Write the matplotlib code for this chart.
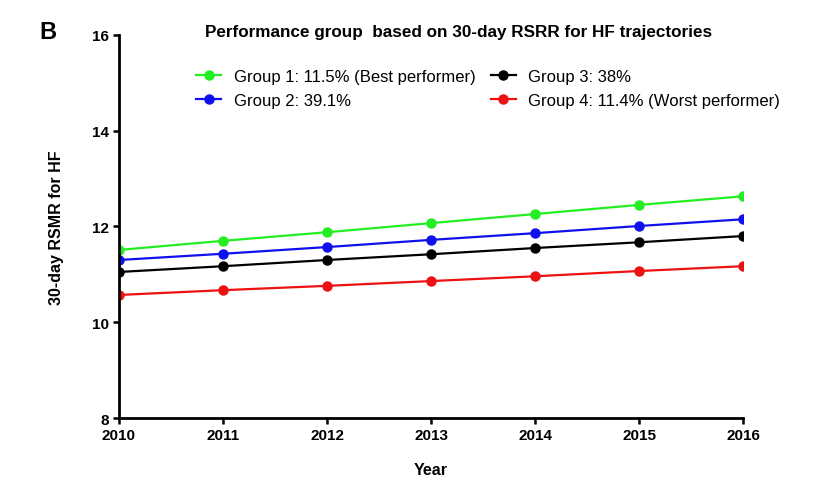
import numpy as np
import matplotlib.pyplot as plt

plt.rcParams['font.family'] = ['Liberation Sans', 'DejaVu Sans']

years = [2010, 2011, 2012, 2013, 2014, 2015, 2016]
group1 = [11.51, 11.70, 11.88, 12.07, 12.26, 12.45, 12.63]
group2 = [11.30, 11.43, 11.57, 11.72, 11.86, 12.01, 12.15]
group3 = [11.05, 11.17, 11.30, 11.42, 11.55, 11.67, 11.80]
group4 = [10.57, 10.67, 10.76, 10.86, 10.96, 11.07, 11.17]
labels = ["Group 1: 11.5% (Best performer)", "Group 2: 39.1%",
          "Group 3: 38%", "Group 4: 11.4% (Worst performer)"]
colors = ["#22ee22", "#1010ee", "#000000", "#ee1111"]

fig = plt.figure(figsize=(8.35, 4.85), dpi=100)
ax = fig.add_axes([0.1425, 0.136, 0.7475, 0.79])

for vals, lab, c in zip([group1, group2, group3, group4], labels, colors):
    ax.plot(years, vals, color=c, lw=1.6, marker="o", ms=6.5, label=lab)

ax.set_xlim(2010, 2016)
ax.set_ylim(8, 16)
ax.set_xticks(years)
ax.set_yticks([8, 10, 12, 14, 16])
ax.spines["top"].set_visible(False)
ax.spines["right"].set_visible(False)
ax.spines["left"].set_linewidth(2)
ax.spines["bottom"].set_linewidth(2)
ax.tick_params(width=1.8, length=4.5, labelsize=11, pad=3)
for t in ax.get_xticklabels() + ax.get_yticklabels():
    t.set_fontweight("bold")

ax.set_xlabel("Year", fontsize=11.5, fontweight="bold", labelpad=14)
ax.set_ylabel("30-day RSMR for HF", fontsize=11.5, fontweight="bold", labelpad=20)

fig.text(0.245, 0.918, "Performance group  based on 30-day RSRR for HF trajectories",
         fontsize=12.3, fontweight="bold", va="bottom")
fig.text(0.047, 0.91, "B", fontsize=17, fontweight="bold", va="bottom")

leg = ax.legend(ncol=2, frameon=False, fontsize=12, loc="upper left",
                bbox_to_anchor=(0.1, 0.95), handlelength=1.5, handletextpad=0.75,
                columnspacing=0.9, labelspacing=0.55)

fig.savefig("out.png", dpi=100)
